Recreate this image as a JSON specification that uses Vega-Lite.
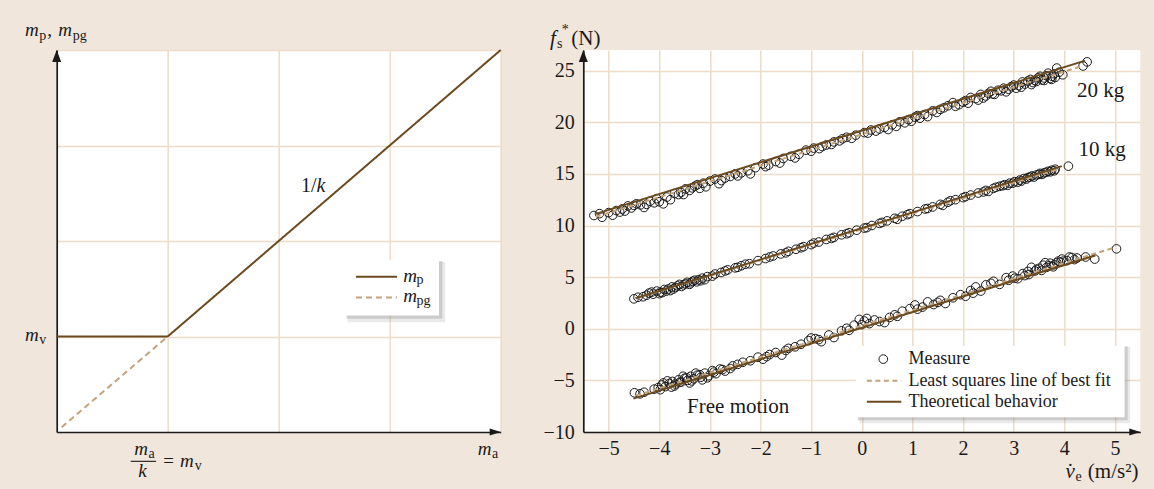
{
  "$schema": "https://vega.github.io/schema/vega-lite/v6.json",
  "autosize": {"type": "none"},
  "padding": {"left": 56.7, "top": 50, "right": 1097.3, "bottom": 439},
  "background": "#f0e6dc",
  "bounds": "flush",
  "spacing": 82.6,
  "config": {
    "view": {"stroke": null, "fill": "white"},
    "axis": {"domainColor": "#1a1a1a", "domainWidth": 1.7, "gridColor": "#ecdcc8", "gridWidth": 1.5, "ticks": false, "labelFont": "Liberation Serif", "labelFontSize": 20, "labelColor": "#1a1a1a"},
    "text": {"font": "Liberation Serif", "color": "#1a1a1a"}
  },
  "datasets": {
    "one": [{}],
    "left": [
      {"s": "mp", "x": 0, "y": 1}, {"s": "mp", "x": 1, "y": 1}, {"s": "mp", "x": 4, "y": 4},
      {"s": "mpg", "x": 0.045, "y": 0.05}, {"s": "mpg", "x": 1, "y": 1}
    ],
    "lines": [
      {"g": "20", "kind": "theory", "x": -5.25, "y": 11.13}, {"g": "20", "kind": "theory", "x": 4.41, "y": 25.97},
      {"g": "10", "kind": "theory", "x": -4.47, "y": 2.95}, {"g": "10", "kind": "theory", "x": 3.95, "y": 15.75},
      {"g": "0", "kind": "theory", "x": -4.51, "y": -6.77}, {"g": "0", "kind": "theory", "x": 4.61, "y": 7.1},
      {"g": "20", "kind": "fit", "x": -5.25, "y": 10.85}, {"g": "20", "kind": "fit", "x": 4.35, "y": 25.45},
      {"g": "10", "kind": "fit", "x": -4.45, "y": 2.95}, {"g": "10", "kind": "fit", "x": 3.9, "y": 15.5},
      {"g": "0", "kind": "fit", "x": -4.45, "y": -6.45}, {"g": "0", "kind": "fit", "x": 5.01, "y": 7.9}
    ],
    "pts": [
      {"g": "20", "x": -5.29, "y": 10.97}, {"g": "20", "x": -5.13, "y": 10.8}, {"g": "20", "x": -5.18, "y": 11.15}, {"g": "20", "x": -4.92, "y": 11.0},
      {"g": "20", "x": -4.85, "y": 11.45}, {"g": "20", "x": -4.73, "y": 11.6}, {"g": "20", "x": -4.62, "y": 11.9}, {"g": "20", "x": -4.55, "y": 11.7},
      {"g": "20", "x": -4.45, "y": 12.1}, {"g": "20", "x": -4.37, "y": 12.0}, {"g": "20", "x": -4.3, "y": 11.75}, {"g": "20", "x": -4.18, "y": 12.35},
      {"g": "20", "x": -4.05, "y": 12.6}, {"g": "20", "x": -4.0, "y": 12.3}, {"g": "20", "x": -3.92, "y": 12.1}, {"g": "20", "x": -3.85, "y": 12.75},
      {"g": "20", "x": -3.7, "y": 13.1}, {"g": "20", "x": -3.57, "y": 13.2}, {"g": "20", "x": -3.48, "y": 13.55}, {"g": "20", "x": -3.4, "y": 13.4},
      {"g": "20", "x": -3.3, "y": 13.8}, {"g": "20", "x": -3.2, "y": 13.6}, {"g": "20", "x": -3.13, "y": 14.1}, {"g": "20", "x": -3.0, "y": 14.3},
      {"g": "20", "x": -2.9, "y": 14.5}, {"g": "20", "x": -2.77, "y": 14.35}, {"g": "20", "x": -2.6, "y": 14.75}, {"g": "20", "x": -2.45, "y": 14.8},
      {"g": "20", "x": -2.38, "y": 15.1}, {"g": "20", "x": -2.25, "y": 15.3}, {"g": "20", "x": -2.1, "y": 15.6}, {"g": "20", "x": -1.95, "y": 15.95},
      {"g": "20", "x": -1.84, "y": 15.85}, {"g": "20", "x": -1.7, "y": 16.2}, {"g": "20", "x": -1.55, "y": 16.5}, {"g": "20", "x": -1.4, "y": 16.7},
      {"g": "20", "x": -1.24, "y": 16.9}, {"g": "20", "x": -1.1, "y": 17.3}, {"g": "20", "x": -0.95, "y": 17.5}, {"g": "20", "x": -0.84, "y": 17.45},
      {"g": "20", "x": -0.7, "y": 17.8}, {"g": "20", "x": -0.55, "y": 18.1}, {"g": "20", "x": -0.44, "y": 18.2}, {"g": "20", "x": -0.3, "y": 18.55},
      {"g": "20", "x": -0.12, "y": 18.75}, {"g": "20", "x": 0.05, "y": 19.0}, {"g": "20", "x": 0.18, "y": 19.25}, {"g": "20", "x": 0.28, "y": 19.15},
      {"g": "20", "x": 0.45, "y": 19.5}, {"g": "20", "x": 0.6, "y": 19.75}, {"g": "20", "x": 0.75, "y": 20.05}, {"g": "20", "x": 0.92, "y": 20.25},
      {"g": "20", "x": 1.05, "y": 20.5}, {"g": "20", "x": 1.15, "y": 20.4}, {"g": "20", "x": 1.24, "y": 20.75}, {"g": "20", "x": 1.4, "y": 21.1},
      {"g": "20", "x": 1.55, "y": 21.25}, {"g": "20", "x": 1.7, "y": 21.6}, {"g": "20", "x": 1.8, "y": 21.9}, {"g": "20", "x": 1.92, "y": 21.7},
      {"g": "20", "x": 2.05, "y": 22.1}, {"g": "20", "x": 2.15, "y": 22.4}, {"g": "20", "x": 2.25, "y": 22.3}, {"g": "20", "x": 2.35, "y": 22.7},
      {"g": "20", "x": 2.45, "y": 22.55}, {"g": "20", "x": 2.55, "y": 23.0}, {"g": "20", "x": 2.69, "y": 23.1}, {"g": "20", "x": 2.8, "y": 23.3},
      {"g": "20", "x": 2.9, "y": 23.2}, {"g": "20", "x": 3.0, "y": 23.6}, {"g": "20", "x": 3.1, "y": 23.55}, {"g": "20", "x": 3.17, "y": 23.9},
      {"g": "20", "x": 3.28, "y": 24.0}, {"g": "20", "x": 3.38, "y": 23.85}, {"g": "20", "x": 3.48, "y": 24.3}, {"g": "20", "x": 3.56, "y": 24.1},
      {"g": "20", "x": 3.65, "y": 24.5}, {"g": "20", "x": 3.72, "y": 24.25}, {"g": "20", "x": 3.8, "y": 24.7}, {"g": "20", "x": 3.85, "y": 25.25},
      {"g": "20", "x": 3.97, "y": 24.6}, {"g": "20", "x": 4.37, "y": 25.45}, {"g": "20", "x": 4.45, "y": 25.85},
      {"g": "20", "x": -4.78, "y": 11.3}, {"g": "20", "x": -4.5, "y": 11.95}, {"g": "20", "x": -4.1, "y": 12.2}, {"g": "20", "x": -3.62, "y": 13.0},
      {"g": "20", "x": -3.35, "y": 13.65}, {"g": "20", "x": -2.7, "y": 14.6}, {"g": "20", "x": -2.5, "y": 15.0}, {"g": "20", "x": -1.9, "y": 15.7},
      {"g": "20", "x": -1.0, "y": 17.2}, {"g": "20", "x": -0.6, "y": 17.85}, {"g": "20", "x": -0.2, "y": 18.45}, {"g": "20", "x": 0.35, "y": 19.35},
      {"g": "20", "x": 0.98, "y": 20.1}, {"g": "20", "x": 1.1, "y": 20.65}, {"g": "20", "x": 1.85, "y": 21.55}, {"g": "20", "x": 2.0, "y": 21.95},
      {"g": "20", "x": 2.3, "y": 22.15}, {"g": "20", "x": 2.5, "y": 22.8}, {"g": "20", "x": 2.62, "y": 22.7}, {"g": "20", "x": 2.75, "y": 23.05},
      {"g": "20", "x": 2.95, "y": 23.45}, {"g": "20", "x": 3.05, "y": 23.3}, {"g": "20", "x": 3.22, "y": 23.7}, {"g": "20", "x": 3.33, "y": 24.15},
      {"g": "20", "x": 3.42, "y": 24.05}, {"g": "20", "x": 3.52, "y": 24.45}, {"g": "20", "x": 3.6, "y": 24.3}, {"g": "20", "x": 3.68, "y": 24.75},
      {"g": "20", "x": 3.76, "y": 24.45}, {"g": "20", "x": 3.9, "y": 24.85},
      {"g": "20", "x": -5.0, "y": 11.25}, {"g": "20", "x": -4.68, "y": 11.4}, {"g": "20", "x": -4.25, "y": 12.05}, {"g": "20", "x": -3.78, "y": 12.5},
      {"g": "20", "x": -3.52, "y": 13.0}, {"g": "20", "x": -3.25, "y": 13.95}, {"g": "20", "x": -3.08, "y": 13.75}, {"g": "20", "x": -2.82, "y": 14.05},
      {"g": "20", "x": -2.2, "y": 15.0}, {"g": "20", "x": -1.62, "y": 16.05}, {"g": "20", "x": -1.32, "y": 16.55}, {"g": "20", "x": -0.78, "y": 17.65},
      {"g": "20", "x": -0.38, "y": 18.4}, {"g": "20", "x": 0.12, "y": 18.95}, {"g": "20", "x": 0.52, "y": 19.3}, {"g": "20", "x": 0.68, "y": 19.6},
      {"g": "20", "x": 0.85, "y": 19.95}, {"g": "20", "x": 1.3, "y": 20.55}, {"g": "20", "x": 1.48, "y": 20.95}, {"g": "20", "x": 1.62, "y": 21.4},
      {"g": "20", "x": 2.1, "y": 21.85}, {"g": "20", "x": 2.4, "y": 22.35}, {"g": "20", "x": 2.58, "y": 22.75}, {"g": "20", "x": 2.85, "y": 22.95},
      {"g": "20", "x": 3.15, "y": 23.4}, {"g": "20", "x": 3.35, "y": 23.65}, {"g": "20", "x": 3.45, "y": 23.95}, {"g": "20", "x": 3.6, "y": 24.05},
      {"g": "20", "x": 3.75, "y": 24.15}, {"g": "20", "x": 3.82, "y": 24.35},
      {"g": "10", "x": -4.5, "y": 2.9}, {"g": "10", "x": -4.42, "y": 3.05}, {"g": "10", "x": -4.32, "y": 3.1}, {"g": "10", "x": -4.25, "y": 3.25},
      {"g": "10", "x": -4.2, "y": 3.45}, {"g": "10", "x": -4.12, "y": 3.35}, {"g": "10", "x": -4.05, "y": 3.65}, {"g": "10", "x": -3.98, "y": 3.55},
      {"g": "10", "x": -3.9, "y": 3.8}, {"g": "10", "x": -3.82, "y": 3.85}, {"g": "10", "x": -3.75, "y": 4.05}, {"g": "10", "x": -3.68, "y": 4.0},
      {"g": "10", "x": -3.6, "y": 4.3}, {"g": "10", "x": -3.52, "y": 4.25}, {"g": "10", "x": -3.45, "y": 4.5}, {"g": "10", "x": -3.38, "y": 4.45},
      {"g": "10", "x": -3.3, "y": 4.7}, {"g": "10", "x": -3.22, "y": 4.75}, {"g": "10", "x": -3.15, "y": 4.9}, {"g": "10", "x": -3.05, "y": 5.05},
      {"g": "10", "x": -2.9, "y": 5.3}, {"g": "10", "x": -2.78, "y": 5.45}, {"g": "10", "x": -2.65, "y": 5.7}, {"g": "10", "x": -2.5, "y": 5.9},
      {"g": "10", "x": -2.38, "y": 6.1}, {"g": "10", "x": -2.22, "y": 6.3}, {"g": "10", "x": -2.05, "y": 6.6}, {"g": "10", "x": -1.9, "y": 6.8},
      {"g": "10", "x": -1.75, "y": 7.05}, {"g": "10", "x": -1.6, "y": 7.25}, {"g": "10", "x": -1.45, "y": 7.5}, {"g": "10", "x": -1.3, "y": 7.7},
      {"g": "10", "x": -1.15, "y": 7.95}, {"g": "10", "x": -1.0, "y": 8.15}, {"g": "10", "x": -0.85, "y": 8.4}, {"g": "10", "x": -0.7, "y": 8.65},
      {"g": "10", "x": -0.55, "y": 8.85}, {"g": "10", "x": -0.4, "y": 9.1}, {"g": "10", "x": -0.25, "y": 9.3}, {"g": "10", "x": -0.1, "y": 9.55},
      {"g": "10", "x": 0.05, "y": 9.75}, {"g": "10", "x": 0.2, "y": 10.0}, {"g": "10", "x": 0.35, "y": 10.2}, {"g": "10", "x": 0.5, "y": 10.45},
      {"g": "10", "x": 0.65, "y": 10.7}, {"g": "10", "x": 0.8, "y": 10.9}, {"g": "10", "x": 0.95, "y": 11.15}, {"g": "10", "x": 1.1, "y": 11.35},
      {"g": "10", "x": 1.25, "y": 11.6}, {"g": "10", "x": 1.4, "y": 11.8}, {"g": "10", "x": 1.55, "y": 12.05}, {"g": "10", "x": 1.7, "y": 12.25},
      {"g": "10", "x": 1.85, "y": 12.5}, {"g": "10", "x": 2.0, "y": 12.7}, {"g": "10", "x": 2.15, "y": 12.95}, {"g": "10", "x": 2.3, "y": 13.15},
      {"g": "10", "x": 2.45, "y": 13.4}, {"g": "10", "x": 2.6, "y": 13.6}, {"g": "10", "x": 2.72, "y": 13.8}, {"g": "10", "x": 2.82, "y": 13.95},
      {"g": "10", "x": 2.92, "y": 14.1}, {"g": "10", "x": 3.02, "y": 14.25}, {"g": "10", "x": 3.12, "y": 14.4}, {"g": "10", "x": 3.2, "y": 14.55},
      {"g": "10", "x": 3.28, "y": 14.65}, {"g": "10", "x": 3.36, "y": 14.8}, {"g": "10", "x": 3.45, "y": 14.9}, {"g": "10", "x": 3.52, "y": 15.05},
      {"g": "10", "x": 3.6, "y": 15.1}, {"g": "10", "x": 3.68, "y": 15.25}, {"g": "10", "x": 3.75, "y": 15.35}, {"g": "10", "x": 3.82, "y": 15.45},
      {"g": "10", "x": 4.08, "y": 15.75},
      {"g": "10", "x": -4.0, "y": 3.4}, {"g": "10", "x": -3.86, "y": 3.65}, {"g": "10", "x": -3.72, "y": 3.85}, {"g": "10", "x": -3.56, "y": 4.1},
      {"g": "10", "x": -3.4, "y": 4.3}, {"g": "10", "x": -3.26, "y": 4.55}, {"g": "10", "x": -3.1, "y": 4.75}, {"g": "10", "x": -2.3, "y": 6.25},
      {"g": "10", "x": -1.2, "y": 7.85}, {"g": "10", "x": 0.7, "y": 10.6}, {"g": "10", "x": 1.6, "y": 11.95}, {"g": "10", "x": 2.5, "y": 13.3},
      {"g": "10", "x": 2.88, "y": 13.9}, {"g": "10", "x": 3.08, "y": 14.2}, {"g": "10", "x": 3.25, "y": 14.5}, {"g": "10", "x": 3.4, "y": 14.7},
      {"g": "10", "x": 3.56, "y": 14.95}, {"g": "10", "x": 3.72, "y": 15.2},
      {"g": "10", "x": -4.15, "y": 3.55}, {"g": "10", "x": -3.94, "y": 3.5}, {"g": "10", "x": -3.78, "y": 3.7}, {"g": "10", "x": -3.64, "y": 4.15},
      {"g": "10", "x": -3.48, "y": 4.35}, {"g": "10", "x": -3.34, "y": 4.6}, {"g": "10", "x": -3.18, "y": 4.65}, {"g": "10", "x": -2.95, "y": 5.1},
      {"g": "10", "x": -2.7, "y": 5.6}, {"g": "10", "x": -2.45, "y": 5.95}, {"g": "10", "x": -1.82, "y": 6.95}, {"g": "10", "x": -1.5, "y": 7.35},
      {"g": "10", "x": -0.95, "y": 8.3}, {"g": "10", "x": -0.6, "y": 8.75}, {"g": "10", "x": -0.3, "y": 9.2}, {"g": "10", "x": 0.1, "y": 9.8},
      {"g": "10", "x": 0.4, "y": 10.3}, {"g": "10", "x": 0.9, "y": 11.05}, {"g": "10", "x": 1.3, "y": 11.65}, {"g": "10", "x": 1.75, "y": 12.4},
      {"g": "10", "x": 2.05, "y": 12.8}, {"g": "10", "x": 2.4, "y": 13.25}, {"g": "10", "x": 2.65, "y": 13.7}, {"g": "10", "x": 2.78, "y": 13.85},
      {"g": "10", "x": 2.98, "y": 14.1}, {"g": "10", "x": 3.15, "y": 14.3}, {"g": "10", "x": 3.32, "y": 14.7}, {"g": "10", "x": 3.5, "y": 14.95},
      {"g": "10", "x": 3.64, "y": 15.15}, {"g": "10", "x": 3.8, "y": 15.3},
      {"g": "0", "x": -4.49, "y": -6.2}, {"g": "0", "x": -4.38, "y": -6.3}, {"g": "0", "x": -4.3, "y": -6.15}, {"g": "0", "x": -4.02, "y": -5.7},
      {"g": "0", "x": -3.95, "y": -5.45}, {"g": "0", "x": -3.88, "y": -5.6}, {"g": "0", "x": -3.8, "y": -5.3}, {"g": "0", "x": -3.74, "y": -5.1},
      {"g": "0", "x": -3.68, "y": -5.35}, {"g": "0", "x": -3.62, "y": -4.95}, {"g": "0", "x": -3.56, "y": -5.15}, {"g": "0", "x": -3.5, "y": -4.8},
      {"g": "0", "x": -3.44, "y": -5.0}, {"g": "0", "x": -3.38, "y": -4.6}, {"g": "0", "x": -3.32, "y": -4.85}, {"g": "0", "x": -3.25, "y": -4.5},
      {"g": "0", "x": -3.18, "y": -4.7}, {"g": "0", "x": -3.1, "y": -4.3}, {"g": "0", "x": -3.02, "y": -4.55}, {"g": "0", "x": -2.95, "y": -4.05},
      {"g": "0", "x": -2.88, "y": -4.35}, {"g": "0", "x": -2.8, "y": -3.9}, {"g": "0", "x": -2.7, "y": -4.1}, {"g": "0", "x": -2.55, "y": -3.6},
      {"g": "0", "x": -2.35, "y": -3.25}, {"g": "0", "x": -2.2, "y": -3.1}, {"g": "0", "x": -2.05, "y": -2.75}, {"g": "0", "x": -1.95, "y": -2.95},
      {"g": "0", "x": -1.82, "y": -2.5}, {"g": "0", "x": -1.7, "y": -2.3}, {"g": "0", "x": -1.58, "y": -2.55}, {"g": "0", "x": -1.45, "y": -1.9},
      {"g": "0", "x": -1.32, "y": -1.75}, {"g": "0", "x": -1.2, "y": -1.5}, {"g": "0", "x": -1.05, "y": -1.15}, {"g": "0", "x": -0.92, "y": -0.95},
      {"g": "0", "x": -0.8, "y": -1.25}, {"g": "0", "x": -0.65, "y": -0.6}, {"g": "0", "x": -0.55, "y": -0.85}, {"g": "0", "x": -0.4, "y": -0.2},
      {"g": "0", "x": -0.25, "y": -0.15}, {"g": "0", "x": -0.15, "y": 0.35}, {"g": "0", "x": -0.05, "y": 0.9}, {"g": "0", "x": 0.05, "y": 0.75},
      {"g": "0", "x": 0.15, "y": 0.5}, {"g": "0", "x": 0.25, "y": 0.85}, {"g": "0", "x": 0.45, "y": 0.6}, {"g": "0", "x": 0.55, "y": 1.1},
      {"g": "0", "x": 0.65, "y": 1.35}, {"g": "0", "x": 0.8, "y": 1.7}, {"g": "0", "x": 0.95, "y": 1.95}, {"g": "0", "x": 1.05, "y": 2.3},
      {"g": "0", "x": 1.2, "y": 2.1}, {"g": "0", "x": 1.3, "y": 2.6}, {"g": "0", "x": 1.42, "y": 2.35}, {"g": "0", "x": 1.55, "y": 2.75},
      {"g": "0", "x": 1.65, "y": 2.45}, {"g": "0", "x": 1.8, "y": 3.0}, {"g": "0", "x": 1.95, "y": 3.3}, {"g": "0", "x": 2.05, "y": 3.15},
      {"g": "0", "x": 2.15, "y": 3.7}, {"g": "0", "x": 2.25, "y": 4.05}, {"g": "0", "x": 2.35, "y": 3.65}, {"g": "0", "x": 2.45, "y": 4.25},
      {"g": "0", "x": 2.6, "y": 4.6}, {"g": "0", "x": 2.72, "y": 4.3}, {"g": "0", "x": 2.85, "y": 4.95}, {"g": "0", "x": 2.98, "y": 5.1},
      {"g": "0", "x": 3.08, "y": 4.85}, {"g": "0", "x": 3.18, "y": 5.35}, {"g": "0", "x": 3.28, "y": 5.55}, {"g": "0", "x": 3.35, "y": 5.95},
      {"g": "0", "x": 3.42, "y": 5.6}, {"g": "0", "x": 3.5, "y": 5.85}, {"g": "0", "x": 3.58, "y": 6.15}, {"g": "0", "x": 3.65, "y": 5.95},
      {"g": "0", "x": 3.72, "y": 6.35}, {"g": "0", "x": 3.8, "y": 6.2}, {"g": "0", "x": 3.88, "y": 6.55}, {"g": "0", "x": 3.95, "y": 6.75},
      {"g": "0", "x": 4.05, "y": 6.6}, {"g": "0", "x": 4.15, "y": 6.9}, {"g": "0", "x": 4.25, "y": 6.85}, {"g": "0", "x": 4.42, "y": 6.95},
      {"g": "0", "x": 4.6, "y": 6.75}, {"g": "0", "x": 5.03, "y": 7.74},
      {"g": "0", "x": -3.98, "y": -5.9}, {"g": "0", "x": -3.84, "y": -5.05}, {"g": "0", "x": -3.7, "y": -5.55}, {"g": "0", "x": -3.53, "y": -4.6},
      {"g": "0", "x": -3.4, "y": -5.25}, {"g": "0", "x": -3.28, "y": -4.3}, {"g": "0", "x": -3.15, "y": -4.95}, {"g": "0", "x": -2.6, "y": -3.85},
      {"g": "0", "x": -1.0, "y": -0.9}, {"g": "0", "x": 0.0, "y": 0.4}, {"g": "0", "x": 0.1, "y": 1.0}, {"g": "0", "x": 1.1, "y": 1.9},
      {"g": "0", "x": 2.9, "y": 4.7}, {"g": "0", "x": 3.3, "y": 5.25}, {"g": "0", "x": 3.62, "y": 6.4}, {"g": "0", "x": 3.78, "y": 6.0},
      {"g": "0", "x": 3.92, "y": 6.45}, {"g": "0", "x": 4.1, "y": 6.95},
      {"g": "0", "x": -4.1, "y": -5.85}, {"g": "0", "x": -3.92, "y": -5.25}, {"g": "0", "x": -3.76, "y": -5.65}, {"g": "0", "x": -3.6, "y": -5.2},
      {"g": "0", "x": -3.46, "y": -4.75}, {"g": "0", "x": -3.36, "y": -5.05}, {"g": "0", "x": -3.2, "y": -4.45}, {"g": "0", "x": -3.05, "y": -4.75},
      {"g": "0", "x": -2.92, "y": -4.2}, {"g": "0", "x": -2.75, "y": -3.95}, {"g": "0", "x": -2.45, "y": -3.45}, {"g": "0", "x": -1.88, "y": -2.7},
      {"g": "0", "x": -1.5, "y": -2.1}, {"g": "0", "x": -0.85, "y": -1.05}, {"g": "0", "x": -0.3, "y": 0.05}, {"g": "0", "x": 0.35, "y": 0.7},
      {"g": "0", "x": 0.7, "y": 1.2}, {"g": "0", "x": 1.5, "y": 2.55}, {"g": "0", "x": 2.2, "y": 3.45}, {"g": "0", "x": 2.55, "y": 4.4},
      {"g": "0", "x": 3.02, "y": 4.9}, {"g": "0", "x": 3.22, "y": 5.15}, {"g": "0", "x": 3.45, "y": 5.75}, {"g": "0", "x": 3.55, "y": 5.65},
      {"g": "0", "x": 3.7, "y": 6.1}, {"g": "0", "x": 3.85, "y": 6.4}, {"g": "0", "x": 3.98, "y": 6.55}, {"g": "0", "x": 4.2, "y": 6.7}
    ]
  },
  "hconcat": [
    {
      "width": 444,
      "height": 382,
      "data": {"name": "one"},
      "layer": [
        {
          "data": {"name": "left"},
          "mark": {"type": "line", "strokeWidth": 2},
          "encoding": {
            "x": {"field": "x", "type": "quantitative", "scale": {"domain": [0, 4], "nice": false, "zero": false}, "axis": {"values": [1, 2, 3, 4], "labels": false, "grid": true, "title": null}},
            "y": {"field": "y", "type": "quantitative", "scale": {"domain": [0, 4], "nice": false, "zero": false}, "axis": {"values": [1, 2, 3, 4], "labels": false, "grid": true, "title": null}},
            "color": {"field": "s", "type": "nominal", "scale": {"domain": ["mp", "mpg"], "range": ["#6b4a1e", "#c4a27a"]}, "legend": null},
            "strokeDash": {"field": "s", "type": "nominal", "scale": {"domain": ["mp", "mpg"], "range": [[1, 0], [6, 4]]}, "legend": null}
          }
        },
        {"mark": {"type": "point", "shape": "M0,0L0.75,2L-0.75,2Z", "size": 144, "filled": true, "fill": "#1a1a1a", "strokeWidth": 0, "opacity": 1}, "encoding": {"x": {"datum": 0}, "y": {"datum": 4}}},
        {"mark": {"type": "point", "shape": "M0,0L-2,-0.65L-2,0.65Z", "size": 121, "filled": true, "fill": "#1a1a1a", "strokeWidth": 0, "opacity": 1}, "encoding": {"x": {"datum": 4}, "y": {"datum": 0}}},
        {"mark": {"type": "rect", "fill": "#888888", "opacity": 0.18}, "encoding": {"x": {"datum": 2.62}, "x2": {"datum": 3.5}, "y": {"datum": 1.78}, "y2": {"datum": 1.15}}},
        {"mark": {"type": "rect", "fill": "#888888", "opacity": 0.3}, "encoding": {"x": {"datum": 2.61}, "x2": {"datum": 3.475}, "y": {"datum": 1.79}, "y2": {"datum": 1.185}}},
        {"mark": {"type": "rect", "fill": "white"}, "encoding": {"x": {"datum": 2.597}, "x2": {"datum": 3.444}, "y": {"datum": 1.8}, "y2": {"datum": 1.22}}},
        {"mark": {"type": "rule", "stroke": "#6b4a1e", "strokeWidth": 2}, "encoding": {"x": {"datum": 2.696}, "x2": {"datum": 3.066}, "y": {"datum": 1.625}}},
        {"mark": {"type": "rule", "stroke": "#c4a27a", "strokeWidth": 2, "strokeDash": [6, 4]}, "encoding": {"x": {"datum": 2.696}, "x2": {"datum": 3.066}, "y": {"datum": 1.409}}},
        {"mark": {"type": "text", "text": "m", "fontStyle": "italic", "fontSize": 19, "align": "left", "baseline": "alphabetic", "dx": 6.3, "dy": 5}, "encoding": {"x": {"datum": 3.066}, "y": {"datum": 1.625}}},
        {"mark": {"type": "text", "text": "p", "fontSize": 14, "align": "left", "baseline": "alphabetic", "dx": 19.5, "dy": 7.5}, "encoding": {"x": {"datum": 3.066}, "y": {"datum": 1.625}}},
        {"mark": {"type": "text", "text": "m", "fontStyle": "italic", "fontSize": 19, "align": "left", "baseline": "alphabetic", "dx": 6.3, "dy": 4.4}, "encoding": {"x": {"datum": 3.066}, "y": {"datum": 1.409}}},
        {"mark": {"type": "text", "text": "pg", "fontSize": 14, "align": "left", "baseline": "alphabetic", "dx": 19.5, "dy": 7.5}, "encoding": {"x": {"datum": 3.066}, "y": {"datum": 1.409}}},
        {"mark": {"type": "text", "text": "1/", "fontSize": 20, "align": "left", "baseline": "alphabetic", "dx": 22.3, "dy": -1.5}, "encoding": {"x": {"datum": 2}, "y": {"datum": 2.5}}},
        {"mark": {"type": "text", "text": "k", "fontStyle": "italic", "fontSize": 20, "align": "left", "baseline": "alphabetic", "dx": 37.9, "dy": -1.5}, "encoding": {"x": {"datum": 2}, "y": {"datum": 2.5}}},
        {"mark": {"type": "text", "text": "m", "fontStyle": "italic", "fontSize": 19, "align": "left", "baseline": "alphabetic", "dx": -31.7, "dy": -14}, "encoding": {"x": {"datum": 0}, "y": {"datum": 4}}},
        {"mark": {"type": "text", "text": "p", "fontSize": 14, "align": "left", "baseline": "alphabetic", "dx": -17.4, "dy": -10.5}, "encoding": {"x": {"datum": 0}, "y": {"datum": 4}}},
        {"mark": {"type": "text", "text": ",", "fontSize": 19, "align": "left", "baseline": "alphabetic", "dx": -9.5, "dy": -14}, "encoding": {"x": {"datum": 0}, "y": {"datum": 4}}},
        {"mark": {"type": "text", "text": "m", "fontStyle": "italic", "fontSize": 19, "align": "left", "baseline": "alphabetic", "dx": 1.6, "dy": -14}, "encoding": {"x": {"datum": 0}, "y": {"datum": 4}}},
        {"mark": {"type": "text", "text": "pg", "fontSize": 14, "align": "left", "baseline": "alphabetic", "dx": 16, "dy": -10.5}, "encoding": {"x": {"datum": 0}, "y": {"datum": 4}}},
        {"mark": {"type": "text", "text": "m", "fontStyle": "italic", "fontSize": 19, "align": "left", "baseline": "alphabetic", "dx": -31.7, "dy": 4.4}, "encoding": {"x": {"datum": 0}, "y": {"datum": 1}}},
        {"mark": {"type": "text", "text": "v", "fontSize": 14, "align": "left", "baseline": "alphabetic", "dx": -17.4, "dy": 7}, "encoding": {"x": {"datum": 0}, "y": {"datum": 1}}},
        {"mark": {"type": "text", "text": "m", "fontStyle": "italic", "fontSize": 19, "align": "left", "baseline": "alphabetic", "dx": -33.4, "dy": 23.3}, "encoding": {"x": {"datum": 1}, "y": {"datum": 0}}},
        {"mark": {"type": "text", "text": "a", "fontSize": 14, "align": "left", "baseline": "alphabetic", "dx": -19.2, "dy": 25.8}, "encoding": {"x": {"datum": 1}, "y": {"datum": 0}}},
        {"mark": {"type": "rule", "stroke": "#1a1a1a", "strokeWidth": 1.1}, "encoding": {"x": {"datum": 0.667}, "x2": {"datum": 0.895}, "y": {"datum": -0.307}}},
        {"mark": {"type": "text", "text": "k", "fontStyle": "italic", "fontSize": 19, "align": "left", "baseline": "alphabetic", "dx": -29.4, "dy": 45}, "encoding": {"x": {"datum": 1}, "y": {"datum": 0}}},
        {"mark": {"type": "text", "text": "=", "fontSize": 19, "align": "left", "baseline": "alphabetic", "dx": -4.4, "dy": 34.5}, "encoding": {"x": {"datum": 1}, "y": {"datum": 0}}},
        {"mark": {"type": "text", "text": "m", "fontStyle": "italic", "fontSize": 19, "align": "left", "baseline": "alphabetic", "dx": 12.3, "dy": 35}, "encoding": {"x": {"datum": 1}, "y": {"datum": 0}}},
        {"mark": {"type": "text", "text": "v", "fontSize": 14, "align": "left", "baseline": "alphabetic", "dx": 27, "dy": 37.5}, "encoding": {"x": {"datum": 1}, "y": {"datum": 0}}},
        {"mark": {"type": "text", "text": "m", "fontStyle": "italic", "fontSize": 19, "align": "left", "baseline": "alphabetic", "dx": -23, "dy": 22.6}, "encoding": {"x": {"datum": 4}, "y": {"datum": 0}}},
        {"mark": {"type": "text", "text": "a", "fontSize": 14, "align": "left", "baseline": "alphabetic", "dx": -8.6, "dy": 26}, "encoding": {"x": {"datum": 4}, "y": {"datum": 0}}}
      ]
    },
    {
      "width": 557,
      "height": 382,
      "data": {"name": "one"},
      "layer": [
        {
          "data": {"name": "pts"},
          "mark": {"type": "point", "shape": "circle", "filled": false, "stroke": "#1a1a1a", "strokeWidth": 1, "size": 75, "opacity": 1},
          "encoding": {
            "x": {"field": "x", "type": "quantitative", "scale": {"domain": [-5.5, 5.5], "nice": false, "zero": false}, "axis": {"values": [-5, -4, -3, -2, -1, 0, 1, 2, 3, 4, 5], "grid": true, "title": null, "labelPadding": 6, "labelFlush": false}},
            "y": {"field": "y", "type": "quantitative", "scale": {"domain": [-10, 27], "nice": false, "zero": false}, "axis": {"values": [-10, -5, 0, 5, 10, 15, 20, 25], "grid": true, "title": null, "labelPadding": 9, "labelFlush": false}}
          }
        },
        {
          "data": {"name": "lines"},
          "transform": [{"filter": "datum.kind == 'fit'"}],
          "mark": {"type": "line", "stroke": "#c4a27a", "strokeWidth": 2, "strokeDash": [5, 3.5]},
          "encoding": {"x": {"field": "x", "type": "quantitative"}, "y": {"field": "y", "type": "quantitative"}, "detail": {"field": "g"}}
        },
        {
          "data": {"name": "lines"},
          "transform": [{"filter": "datum.kind == 'theory'"}],
          "mark": {"type": "line", "stroke": "#6b4a1e", "strokeWidth": 2},
          "encoding": {"x": {"field": "x", "type": "quantitative"}, "y": {"field": "y", "type": "quantitative"}, "detail": {"field": "g"}}
        },
        {"mark": {"type": "point", "shape": "M0,0L0.75,2L-0.75,2Z", "size": 144, "filled": true, "fill": "#1a1a1a", "strokeWidth": 0, "opacity": 1}, "encoding": {"x": {"datum": -5.5}, "y": {"datum": 27}}},
        {"mark": {"type": "point", "shape": "M0,0L-2,-0.65L-2,0.65Z", "size": 121, "filled": true, "fill": "#1a1a1a", "strokeWidth": 0, "opacity": 1}, "encoding": {"x": {"datum": 5.5}, "y": {"datum": -10}}},
        {"mark": {"type": "rect", "fill": "#888888", "opacity": 0.18}, "encoding": {"x": {"datum": -0.05}, "x2": {"datum": 5.3}, "y": {"datum": -1.75}, "y2": {"datum": -9.15}}},
        {"mark": {"type": "rect", "fill": "#888888", "opacity": 0.3}, "encoding": {"x": {"datum": -0.08}, "x2": {"datum": 5.25}, "y": {"datum": -1.7}, "y2": {"datum": -8.85}}},
        {"mark": {"type": "rect", "fill": "white"}, "encoding": {"x": {"datum": -0.11}, "x2": {"datum": 5.19}, "y": {"datum": -1.66}, "y2": {"datum": -8.56}}},
        {"mark": {"type": "point", "shape": "circle", "filled": false, "stroke": "#1a1a1a", "strokeWidth": 1, "size": 75, "opacity": 1}, "encoding": {"x": {"datum": 0.425}, "y": {"datum": -2.94}}},
        {"mark": {"type": "rule", "stroke": "#c4a27a", "strokeWidth": 2, "strokeDash": [5, 3.5]}, "encoding": {"x": {"datum": 0.1}, "x2": {"datum": 0.78}, "y": {"datum": -5.04}}},
        {"mark": {"type": "rule", "stroke": "#6b4a1e", "strokeWidth": 2}, "encoding": {"x": {"datum": 0.1}, "x2": {"datum": 0.78}, "y": {"datum": -7.08}}},
        {"mark": {"type": "text", "text": "Measure", "fontSize": 18, "align": "left", "baseline": "middle"}, "encoding": {"x": {"datum": 0.92}, "y": {"datum": -2.94}}},
        {"mark": {"type": "text", "text": "Least squares line of best fit", "fontSize": 18, "align": "left", "baseline": "middle"}, "encoding": {"x": {"datum": 0.92}, "y": {"datum": -5.04}}},
        {"mark": {"type": "text", "text": "Theoretical behavior", "fontSize": 18, "align": "left", "baseline": "middle"}, "encoding": {"x": {"datum": 0.92}, "y": {"datum": -7.08}}},
        {"mark": {"type": "text", "text": "20 kg", "fontSize": 21, "align": "left", "baseline": "alphabetic"}, "encoding": {"x": {"datum": 4.25}, "y": {"datum": 22.42}}},
        {"mark": {"type": "text", "text": "10 kg", "fontSize": 21, "align": "left", "baseline": "alphabetic"}, "encoding": {"x": {"datum": 4.28}, "y": {"datum": 16.73}}},
        {"mark": {"type": "text", "text": "Free motion", "fontSize": 21, "align": "left", "baseline": "alphabetic"}, "encoding": {"x": {"datum": -3.45}, "y": {"datum": -8.17}}},
        {"mark": {"type": "text", "text": "f", "fontStyle": "italic", "fontSize": 21, "align": "left", "baseline": "alphabetic", "dx": -33.3, "dy": -5}, "encoding": {"x": {"datum": -5.5}, "y": {"datum": 27}}},
        {"mark": {"type": "text", "text": "s", "fontSize": 14, "align": "left", "baseline": "alphabetic", "dx": -26.3, "dy": -2.5}, "encoding": {"x": {"datum": -5.5}, "y": {"datum": 27}}},
        {"mark": {"type": "text", "text": "*", "fontSize": 14, "align": "left", "baseline": "alphabetic", "dx": -21.5, "dy": -16.5}, "encoding": {"x": {"datum": -5.5}, "y": {"datum": 27}}},
        {"mark": {"type": "text", "text": "(N)", "fontSize": 21, "align": "left", "baseline": "alphabetic", "dx": -12, "dy": -5}, "encoding": {"x": {"datum": -5.5}, "y": {"datum": 27}}},
        {"mark": {"type": "text", "text": "v̇", "fontStyle": "italic", "fontSize": 21, "align": "left", "baseline": "alphabetic", "dx": -74.8, "dy": 45.5}, "encoding": {"x": {"datum": 5.5}, "y": {"datum": -10}}},
        {"mark": {"type": "text", "text": "e", "fontSize": 14, "align": "left", "baseline": "alphabetic", "dx": -64.8, "dy": 48.5}, "encoding": {"x": {"datum": 5.5}, "y": {"datum": -10}}},
        {"mark": {"type": "text", "text": "(m/s²)", "fontSize": 21, "align": "left", "baseline": "alphabetic", "dx": -52.5, "dy": 45.5}, "encoding": {"x": {"datum": 5.5}, "y": {"datum": -10}}}
      ]
    }
  ]
}
